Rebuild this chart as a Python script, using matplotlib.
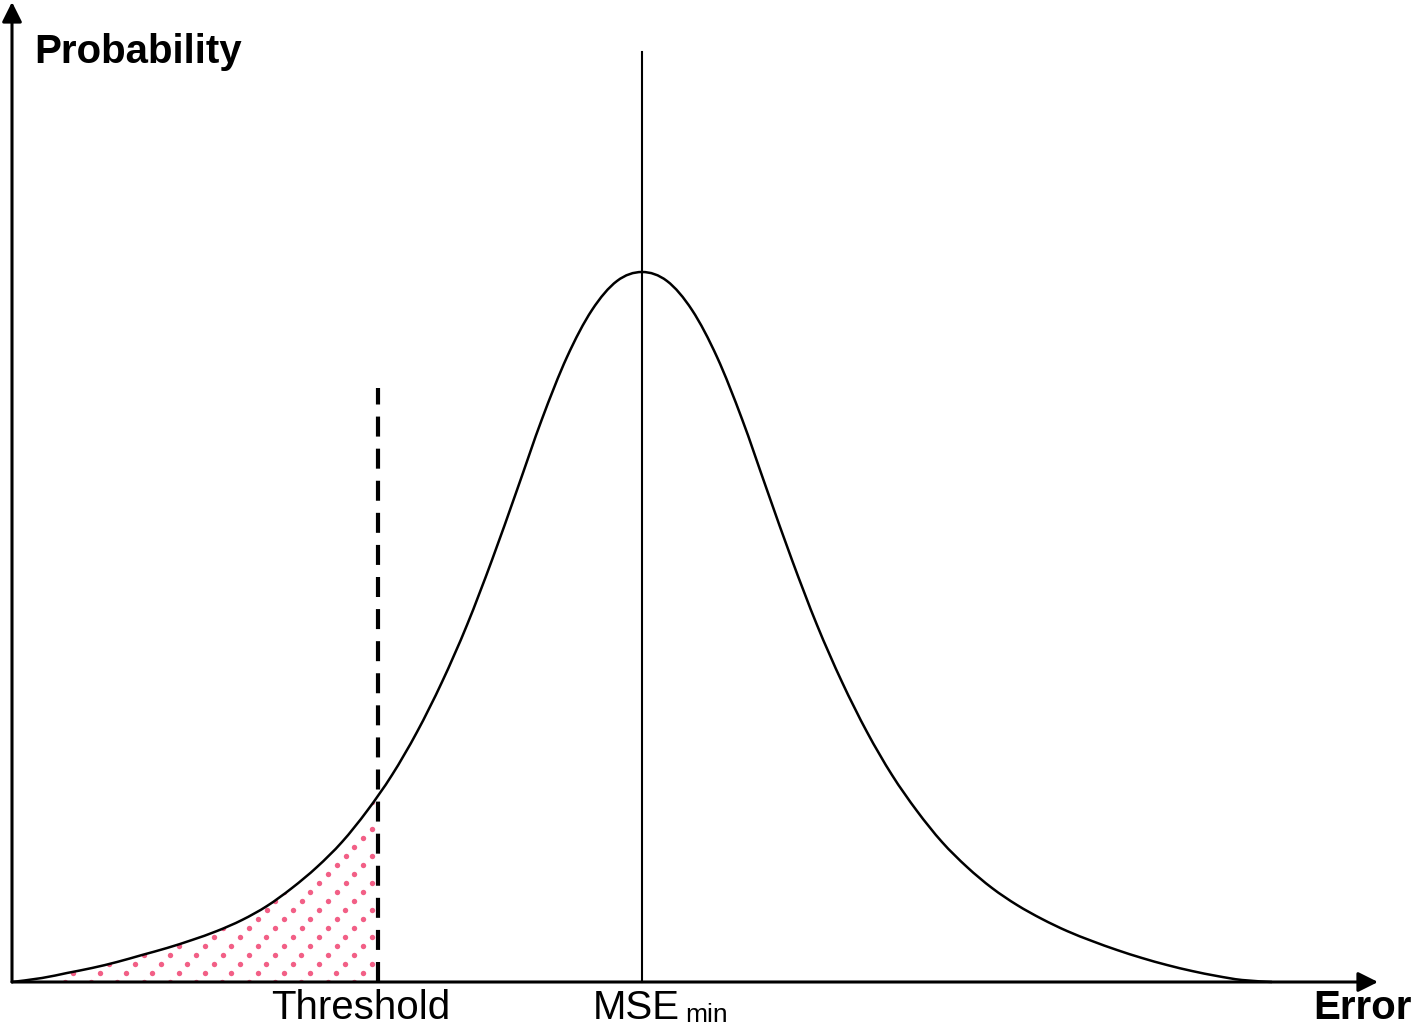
import numpy as np
import matplotlib
matplotlib.use("Agg")
import matplotlib.pyplot as plt
from matplotlib.path import Path
from matplotlib.patches import PathPatch

plt.rcParams['font.family'] = ['Liberation Sans', 'DejaVu Sans']

# error distribution curve (arbitrary units)
err = [0.00, 0.30, 0.55, 0.80, 1.05, 1.30, 1.55, 1.80, 2.05, 2.30,
       2.55, 2.80, 3.05, 3.30, 3.55, 3.80, 4.05, 4.30, 4.55, 4.80,
       5.05, 5.30, 5.55, 5.80, 6.05, 6.30, 6.55, 6.80, 7.05, 7.30,
       7.55, 7.80, 8.05, 8.30, 8.55, 8.80, 9.05, 9.30, 9.55, 9.80,
       10.05, 10.30, 10.55, 10.80, 11.05, 11.30, 11.55, 11.80, 12.05, 12.30,
       12.60]
prob = [0.000, 0.004, 0.009, 0.014, 0.020, 0.027, 0.034, 0.042, 0.051, 0.062,
        0.076, 0.094, 0.115, 0.140, 0.171, 0.207, 0.250, 0.300, 0.357, 0.422,
        0.492, 0.563, 0.625, 0.672, 0.701, 0.710, 0.701, 0.672, 0.625, 0.563,
        0.492, 0.422, 0.357, 0.300, 0.250, 0.207, 0.171, 0.140, 0.115, 0.094,
        0.077, 0.063, 0.051, 0.041, 0.032, 0.024, 0.017, 0.011, 0.006, 0.002,
        0.000]

threshold = 3.66
threshold_top = 0.594
mse_min = 6.30
mse_top = 0.930


def smooth_path(xs, ys, close=False):
    # catmull-rom through the points, drawn as cubic bezier segments
    pts = np.column_stack([xs, ys])
    ext = np.vstack([pts[0], pts, pts[-1]])
    verts = [pts[0]]
    codes = [Path.MOVETO]
    for i in range(1, len(ext) - 2):
        p0, p1, p2, p3 = ext[i - 1], ext[i], ext[i + 1], ext[i + 2]
        verts += [p1 + (p2 - p0) / 6, p2 - (p3 - p1) / 6, p2]
        codes += [Path.CURVE4] * 3
    if close:
        verts.append(pts[0])
        codes.append(Path.CLOSEPOLY)
    return Path(verts, codes)


fig = plt.figure(figsize=(14.15, 10.28), dpi=100)
ax = fig.add_axes([0, 0, 1, 1])
ax.set_xlim(-0.12, 14.03)
ax.set_ylim(-0.046, 0.982)
ax.axis('off')

# shaded tail below the threshold (pink dot pattern)
area = PathPatch(smooth_path(err, prob, close=True), facecolor='none', edgecolor='none')
ax.add_patch(area)
rows = np.arange(0, 30)
cols = np.arange(-20, 20)
cc, rr = np.meshgrid(cols, rows)
dot_x = (cc * 0.263 + rr * 0.088).ravel()
dot_y = (rr * 0.009).ravel()
keep = (dot_x > 0.3) & (dot_x < threshold - 0.04)
dots = ax.scatter(dot_x[keep], dot_y[keep], s=15, color='#f25f86', linewidths=0, zorder=1)
dots.set_clip_path(area)

# curve
ax.add_patch(PathPatch(smooth_path(err, prob), facecolor='none', edgecolor='black',
                       lw=1.8, zorder=3))

# threshold and MSE_min lines
thr, = ax.plot([threshold, threshold], [0, threshold_top], color='black', lw=3, zorder=2)
thr.set_dashes((4.8, 2.9))
ax.plot([mse_min, mse_min], [0, mse_top], color='black', lw=1.5, zorder=2)

# axes with arrows
arrow = dict(arrowstyle='-|>,head_length=0.6,head_width=0.3', color='black',
             lw=2.2, shrinkA=0, shrinkB=0, mutation_scale=20)
ax.annotate('', xy=(0, 0.980), xytext=(0, 0), arrowprops=arrow, zorder=4)
ax.annotate('', xy=(13.66, 0), xytext=(0, 0), arrowprops=arrow, zorder=4)

# labels
ax.text(0.22, 0.930, 'Probability', fontsize=29, fontweight='bold', va='center', ha='left')
ax.text(14.0, -0.026, 'Error', fontsize=29, fontweight='bold', va='center', ha='right')
ax.text(threshold - 0.17, -0.026, 'Threshold', fontsize=29, va='center', ha='center')
ax.text(5.81, -0.026, 'MSE', fontsize=29, va='center', ha='left')
ax.text(6.73, -0.033, 'min', fontsize=19, va='center', ha='left')

fig.savefig('out.png', dpi=100)
